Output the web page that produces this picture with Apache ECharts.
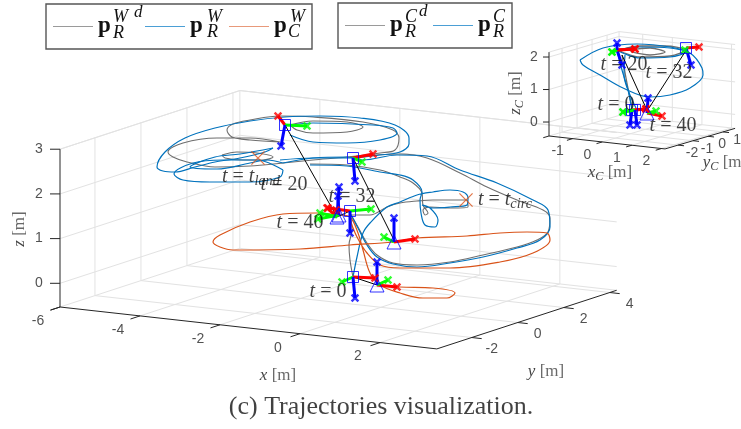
<!DOCTYPE html>
<html><head><meta charset="utf-8"><style>html,body{margin:0;padding:0;background:#fff}#c{width:741px;height:429px}</style>
<script src="https://cdn.jsdelivr.net/npm/echarts@6/dist/echarts.min.js"></script></head>
<body><div id="c"></div><script>
// Projected-view readings (the 3D plot is flattened by the view; values are view-plane readings)
const grayLoop=[[280,142],[250,138],[217,138],[183,143],[168,152],[173,157],[187,162],[215,167],[250,166],[283,163],[313,160],[347,157],[380,153],[395,150],[399,138],[393,130],[363,122],[313,117],[280,116],[250,120],[233,124],[227,130],[232,137],[250,140],[280,142]];
const grayInner=[[222,155],[237,152],[257,153],[273,157],[263,160],[243,160],[225,158],[222,155]];
const grayTopSmall=[[290,125],[313,121],[347,122],[363,127],[347,132],[313,133],[297,130],[290,125]];
const graySweep=[[350,157],[400,154],[427,158],[460,173],[487,187],[517,200],[543,210],[550,218],[548,232],[537,240],[517,247],[483,255],[450,262],[417,265],[393,263],[377,255],[367,243],[358,227],[350,213]];
const grayCurl=[[352,215],[370,215],[387,207],[400,203],[417,201],[433,200],[467,200],[468,207],[450,208],[430,207],[423,210],[425,215],[428,213],[423,205],[422,193],[413,183],[400,177],[380,170],[347,165],[310,164]];
const grayStart=[[353,277],[350,260],[349,245],[352,230],[350,213]];
const blueTop=[[273,148],[265,152],[240,158],[215,162],[195,167],[175,172],[163,171],[157,167],[165,152],[185,138],[215,128],[250,121],[285,117],[320,116],[360,118],[395,125],[409,138],[409,144],[400,152],[380,155],[347,158],[313,158],[280,160]];
const blueTip=[[273,148],[240,154],[215,157],[190,167],[217,169],[250,163],[267,160],[283,163]];
const blueLower=[[283,170],[280,177],[250,182],[210,182],[183,180],[174,174],[193,163],[223,160],[257,160],[283,170]];
const blueBand=[[290,135],[313,142],[347,143],[380,140],[397,133],[393,128],[373,125],[313,123],[290,125]];
const blueSweep=[[283,163],[313,158],[347,157],[363,160],[397,155],[427,156],[460,170],[497,183],[533,200],[548,210],[550,227],[540,240],[517,248],[483,257],[450,263],[417,267],[393,264],[377,257],[367,245],[358,228],[350,213]];
const blueCurl=[[310,165],[347,166],[380,172],[400,175],[413,180],[422,192],[420,200],[421,213],[425,225],[435,227],[438,220],[430,208],[422,205],[433,208],[450,207],[467,205],[468,198],[463,192],[450,190],[433,192],[417,195],[400,202],[387,207],[370,223],[363,233],[357,257],[353,277]];
const orangeCam=[[378,285],[400,287],[433,288],[455,293],[447,298],[423,298],[400,293],[380,285],[370,273],[363,250],[358,233],[350,217],[340,215],[317,213],[283,214],[250,222],[220,235],[213,242],[220,247],[233,250],[300,249],[350,245],[393,242],[417,238],[467,236],[500,233],[527,232],[547,233],[550,240],[533,253],[500,262],[450,268],[400,268],[380,265],[367,253],[357,237],[350,220]];
const insetGrayA=[[620,50],[640,46],[665,46],[685,50],[670,56],[640,57],[622,52],[620,50]];
const insetGrayB=[[630,50],[650,48],[665,52],[650,55],[632,52],[630,50]];
const insetGrayC=[[622,55],[626,78],[632,108]];
const insetBlueA=[[580,60],[603,48],[637,44],[670,47],[690,53],[702,68],[703,75],[690,88],[670,95],[650,97],[623,88],[600,75],[583,65],[580,60]];
const insetBlueB=[[617,50],[640,47],[670,48],[686,52],[670,57],[640,58],[625,54],[617,50]];
const insetBlueC=[[617,50],[622,70],[628,90],[632,110]];
const insetBlueD=[[625,55],[624,75],[630,95],[636,108]];
const links=[[[285,125],[337,217]],[[353,158],[394,240]],[[353,277],[377,285]],[[350,211],[337,217]],[[622,55],[646,108]],[[685,52],[649,108]]];
// frame: origin, marker, x tip, y tip, z tip
const frames=[
 [[285,125],'rect',[278,116],[307,126],[281,146]],
 [[353,158],'rect',[373,154],[362,162],[355,181]],
 [[350,211],'rect',[328,208],[371,209],[350,233]],
 [[337,217],'triangle',[327,208],[320,213],[339,187]],
 [[339,215],'triangle',[336,210],[318,219],[338,196]],
 [[394,242],'triangle',[415,239],[384,237],[394,218]],
 [[353,277],'rect',[375,278],[342,282],[355,298]],
 [[377,285],'triangle',[397,287],[388,280],[377,262]],
 [[617,50],'none',[635,49],[612,52],[622,65]],
 [[617,50],'none',[635,49],[612,52],[617,43]],
 [[686,48],'rect',[699,47],[685,50],[691,65]],
 [[647,113],'triangle',[662,116],[656,111],[648,98]],
 [[632,110],'rect',[646,109],[623,112],[630,125]],
 [[635,110],'rect',[646,109],[623,112],[637,125]]
];
const crosses=[[258,158],[466,200]];
const notes=[
 [251,177,'{i|t} = {i|t}{s|land}'],[284,185,'{i|t} = 20'],[352,197,'{i|t} = 32'],[300,223,'{i|t} = 40'],[328,292,'{i|t} = 0'],[505,200,'{i|t} = {i|t}{s|circ}'],
 [624,65,'{i|t} = 20'],[669,73,'{i|t} = 32'],[616,105,'{i|t} = 0'],[673,126,'{i|t} = 40']
];
const captions=[[381,407,'(c) Trajectories visualization.']];
const axisNames=[[278,376,'{i|x} [m]',0],[546,372,'{i|y} [m]',0],[20,229,'{i|z} [m]',90],[610,173,'{i|x}{s|C} [m]',0],[725,163,'{i|y}{s|C} [m]',0],[516,93,'{i|z}{s|C} [m]',90]];
const mainBox={o:[60,307],ex:[40,4.45],ey:[23,-7.5],ez:[0,-44.7],x:[-6,3.42],y:[-3.52,4.3],z:[-0.53,3],xt:[-6,-4,-2,0,2],yt:[-2,0,2,4],zt:[0,1,2,3],lx:[-22,14],ly:[20,12],lz:[-21,0],tick:10};
const insetBox={o:[549,136],ex:[29.6,3.3],ey:[15,-4.4],ez:[0,-32.5],x:[-1.8,2.12],y:[-2.87,1.8],z:[-0.43,2.15],xt:[-1,0,1,2],yt:[-2,-1,0,1],zt:[0,1,2],lx:[-15,13],ly:[14,8],lz:[-15,0],tick:6};
const GRAY='#6e6e6e',BLUE='#0072BD',ORANGE='#D95319',GRID='#e2e2e2',AX='#262626';
const series=[];
const line=(name,data,color,width,smooth,z)=>series.push({type:'line',name,data,smooth:smooth?0.35:false,symbol:'none',silent:true,clip:false,z:z||2,lineStyle:{color,width},itemStyle:{color}});
const P=(b,x,y,z)=>[b.o[0]+(x-b.x[0])*b.ex[0]+(y-b.y[0])*b.ey[0]+(z-b.z[0])*b.ez[0], b.o[1]+(x-b.x[0])*b.ex[1]+(y-b.y[0])*b.ey[1]+(z-b.z[0])*b.ez[1]];
const tickLabels=[];
function box(b){
 const [x0,x1]=b.x,[y0,y1]=b.y,[z0,z1]=b.z;
 const g=(a,c)=>line('',[a,c],GRID,1,false,1), k=(a,c)=>line('',[a,c],AX,1,false,1.5);
 b.xt.filter(t=>t>x0).forEach(t=>{g(P(b,t,y0,z0),P(b,t,y1,z0));g(P(b,t,y1,z0),P(b,t,y1,z1));});
 b.yt.forEach(t=>{g(P(b,x0,t,z0),P(b,x1,t,z0));g(P(b,x0,t,z0),P(b,x0,t,z1));});
 b.zt.forEach(t=>{g(P(b,x0,y0,t),P(b,x0,y1,t));g(P(b,x0,y1,t),P(b,x1,y1,t));});
 g(P(b,x0,y1,z0),P(b,x0,y1,z1));g(P(b,x0,y1,z1),P(b,x1,y1,z1));g(P(b,x0,y0,z1),P(b,x0,y1,z1));
 g(P(b,x0,y0,z0),P(b,x0,y1,z0));g(P(b,x0,y1,z0),P(b,x1,y1,z0));
 k(P(b,x0,y0,z0),P(b,x1,y0,z0));k(P(b,x1,y0,z0),P(b,x1,y1,z0));k(P(b,x0,y0,z0),P(b,x0,y0,z1));
 const ln=v=>Math.hypot(v[0],v[1]);
 b.xt.concat([x0]).forEach(t=>{const a=P(b,t,y0,z0);k(a,[a[0]-b.ey[0]/ln(b.ey)*b.tick,a[1]-b.ey[1]/ln(b.ey)*b.tick]);});
 b.yt.forEach(t=>{const a=P(b,x1,t,z0);k(a,[a[0]+b.ex[0]/ln(b.ex)*b.tick,a[1]+b.ex[1]/ln(b.ex)*b.tick]);});
 b.zt.forEach(t=>{const a=P(b,x0,y0,t);k(a,[a[0]-b.tick,a[1]]);});
 b.xt.forEach(t=>{const a=P(b,t,y0,z0);tickLabels.push([a[0]+b.lx[0],a[1]+b.lx[1],String(t)]);});
 b.yt.forEach(t=>{const a=P(b,x1,t,z0);tickLabels.push([a[0]+b.ly[0],a[1]+b.ly[1],String(t)]);});
 b.zt.forEach(t=>{const a=P(b,x0,y0,t);tickLabels.push([a[0]+b.lz[0],a[1]+b.lz[1],String(t)]);});
}
box(mainBox);box(insetBox);
const N1='p_R^W d',N2='p_R^W',N3='p_C^W',N4='p_R^C d',N5='p_R^C';
[grayLoop,grayInner,grayTopSmall,graySweep,grayCurl,grayStart].forEach((d,i)=>line(i?'':N1,d,GRAY,1.1,true,3));
[insetGrayA,insetGrayB,insetGrayC].forEach((d,i)=>line(i?'':N4,d,GRAY,1.3,true,3));
[blueTop,blueTip,blueLower,blueBand,blueSweep,blueCurl].forEach((d,i)=>line(i?'':N2,d,BLUE,1.2,true,4));
[insetBlueA,insetBlueB,insetBlueC,insetBlueD].forEach((d,i)=>line(i?'':N5,d,BLUE,1.2,true,4));
line(N3,orangeCam,ORANGE,1.2,true,5);
links.forEach(d=>line('',d,'#000',1,false,6));
const XP='path://M-5 -3 L-3 -5 L0 -2 L3 -5 L5 -3 L2 0 L5 3 L3 5 L0 2 L-3 5 L-5 3 L-2 0 Z';
frames.forEach(f=>{line('',[f[0],f[2]],'#ff0000',3,false,7);line('',[f[0],f[3]],'#00ff00',3,false,7);line('',[f[0],f[4]],'#0000ff',3,false,7);});
[[2,'#ff0000'],[3,'#00ff00'],[4,'#0000ff']].forEach(([i,c])=>series.push({type:'scatter',data:frames.map(f=>f[i]),symbol:XP,symbolSize:8.5,silent:true,clip:false,z:8,itemStyle:{color:c}}));
['rect','triangle'].forEach(s=>series.push({type:'scatter',data:frames.filter(f=>f[1]===s).map(f=>f[0]),symbol:s,symbolSize:s==='rect'?11:14,silent:true,clip:false,z:9,itemStyle:{color:'rgba(0,0,0,0)',borderColor:'#0000ff',borderWidth:1}}));
series.push({type:'scatter',data:crosses,symbol:'path://M-5 -5.7 L0 -0.7 L5 -5.7 L5.7 -5 L0.7 0 L5.7 5 L5 5.7 L0 0.7 L-5 5.7 L-5.7 5 L-0.7 0 L-5.7 -5 Z',symbolSize:14,silent:true,clip:false,z:9,itemStyle:{color:ORANGE}});
const serif='"Liberation Serif","DejaVu Serif",serif';
const rich=sz=>({i:{fontFamily:serif,fontStyle:'italic',fontSize:sz,color:'#111'},s:{fontFamily:serif,fontStyle:'italic',fontSize:sz*0.72,color:'#111',padding:[sz*0.4,0,0,0]},n:{fontFamily:serif,fontSize:sz,color:'#111'}});
const textSeries=(rows,font,sz,color,z)=>series.push({type:'scatter',data:rows.map(r=>({value:[r[0],r[1]],name:r[2],label:{rotate:r[3]||0}})),symbol:'circle',symbolSize:1,silent:true,clip:false,z:z||12,itemStyle:{color:'rgba(0,0,0,0)'},
 label:{show:true,position:'inside',formatter:p=>p.name,fontFamily:font,fontSize:sz,color,rich:rich(sz)}});
textSeries(tickLabels,'"Liberation Sans",Arial,sans-serif',14,AX);
textSeries(notes,serif,20,'#111',12);
textSeries(axisNames,serif,17,'#444',12);
textSeries(captions,serif,26,'#111',12);
const lrich=w=>({fontFamily:serif,fontWeight:'bold',fontSize:23,color:'#111',width:w,height:17,lineHeight:17});
const legendBase={orient:'horizontal',icon:'path://M0 0H40V1H0Z',itemWidth:40,itemHeight:2,itemGap:5,borderColor:'#555',borderWidth:1.4,backgroundColor:'#fff',selectedMode:false,z:20};
const LG={color:'#9a9a9a'},LB={color:'#4b9fd5'},LO={color:'#e8997a'};
const scr=(t,x,y,sz)=>({type:'text',x,y,z:30,style:{text:t,x:0,y:0,font:`italic ${sz||18}px ${serif}`,fill:'#111',textVerticalAlign:'middle'}});
const opt={animation:false,backgroundColor:'#fff',
 grid:{left:0,right:0,top:0,bottom:0,containLabel:false},
 xAxis:{type:'value',min:0,max:741,show:false},
 yAxis:{type:'value',min:0,max:429,inverse:true,show:false},
 legend:[
  Object.assign({},legendBase,{left:46,top:4,padding:[11,7],data:[{name:N1,itemStyle:LG},{name:N2,itemStyle:LB},{name:N3,itemStyle:LO}],formatter:n=>`{t${n===N1?1:n===N2?2:3}|p}`,textStyle:{rich:{t1:lrich(42),t2:lrich(34),t3:lrich(31)}}}),
  Object.assign({},legendBase,{left:338,top:3,padding:[11,7],data:[{name:N4,itemStyle:LG},{name:N5,itemStyle:LB}],formatter:n=>`{t${n===N4?1:2}|p}`,textStyle:{rich:{t1:lrich(38),t2:lrich(27)}}})
 ],
 graphic:{elements:[
  scr('W',113,17),scr('d',134,13,17),scr('R',113,33),
  scr('W',207,17),scr('R',207,32),
  scr('W',290,17),scr('C',288,32),
  scr('C',405,17),scr('d',419,12,17),scr('R',405,32),
  scr('C',493,17),scr('R',493,32)
 ]},
 tooltip:{show:false},
 series};
echarts.init(document.getElementById('c'),null,{renderer:'canvas'}).setOption(opt);
</script></body></html>
